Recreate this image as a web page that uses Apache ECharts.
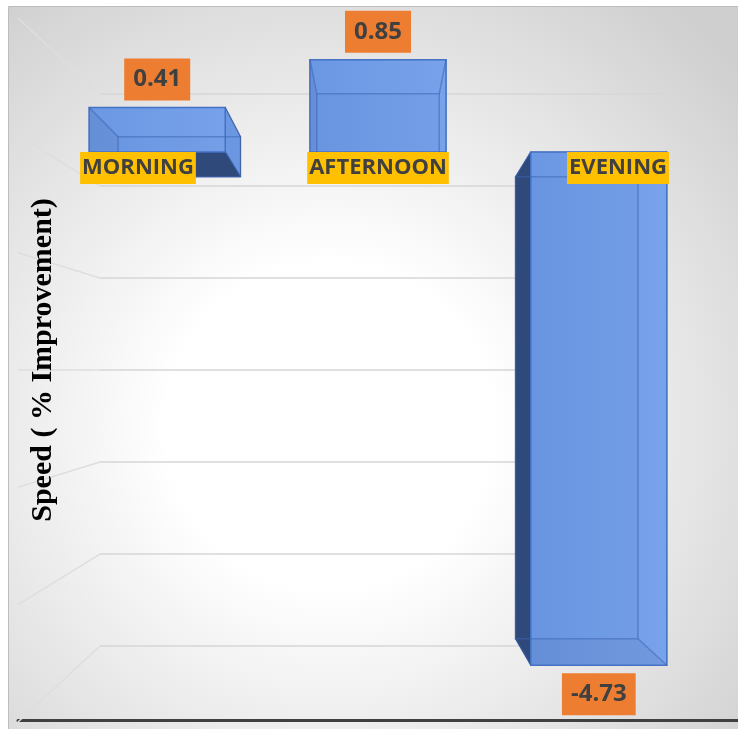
<!DOCTYPE html>
<html><head><meta charset="utf-8">
<script src="https://cdn.jsdelivr.net/npm/echarts@6/dist/echarts.min.js"></script>
<style>html,body{margin:0;padding:0;background:#fff}#c{width:738px;height:729px}</style>
</head><body><div id="c"></div>
<script>
const categories = ['MORNING', 'AFTERNOON', 'EVENING'];
const speedValues = [0.41, 0.85, -4.73];
const valueLabels = ['0.41', '0.85', '-4.73'];
const gridTicks = [0, 1, 2, 3, 4, 5, 6];
const yTitle = 'Speed ( % Improvement)';

const chart = echarts.init(document.getElementById('c'));
const VP = [378, 400];
const DEPTH = 0.9;
const SPREAD = 0.92;
const back = p => [VP[0] + (p[0] - VP[0]) * DEPTH, VP[1] + (p[1] - VP[1]) * DEPTH];

function renderBar(params, api) {
  const idx = api.value(0), v = api.value(1);
  const base = api.coord([idx, 0]);
  const top = api.coord([idx, v]);
  const band = api.size([1, 0])[0];
  const cx = VP[0] + (base[0] - VP[0]) * SPREAD;
  const w = band * 0.567;
  const x0 = cx - w / 2, x1 = cx + w / 2;
  const yT = Math.min(base[1], top[1]), yB = Math.max(base[1], top[1]);
  const F = [[x0, yT], [x1, yT], [x1, yB], [x0, yB]];
  const B = F.map(back);
  const poly = (pts, fill, z2) => ({type: 'polygon', z2: z2 || 0, shape: {points: pts}, style: {fill: fill, stroke: 'rgba(40,70,130,0.5)', lineWidth: 1}});
  const children = [
    poly(B, '#4d78c4', 1),
    poly([F[0], F[1], B[1], B[0]], '#6590dc', 2),
    poly([F[1], F[2], B[2], B[1]], '#6a96e2', 2),
    poly([F[3], F[2], B[2], B[3]], '#2f4a7a', 2),
    poly([F[0], F[3], B[3], B[0]], '#2f4a7a', 2),
    {type: 'polygon', z2: 3, shape: {points: F}, style: {
      fill: new echarts.graphic.LinearGradient(0, 0, 1, 0, [{offset: 0, color: 'rgba(108,152,228,0.88)'}, {offset: 1, color: 'rgba(122,164,236,0.88)'}]),
      stroke: '#4472C4', lineWidth: 1.5}},
    {type: 'polygon', z2: 4, shape: {points: B}, style: {fill: null, stroke: 'rgba(60,100,180,0.5)', lineWidth: 1.5}}
  ];
  for (let k = 0; k < 4; k++) {
    children.push({type: 'line', z2: 4, shape: {x1: F[k][0], y1: F[k][1], x2: B[k][0], y2: B[k][1]}, style: {stroke: 'rgba(60,100,180,0.5)', lineWidth: 1.5}});
  }
  children.push({type: 'text', z2: 10, style: {
    text: categories[idx], x: base[0], y: base[1] + 16, align: 'center', verticalAlign: 'middle',
    font: 'bold 22px "Open Sans"', fill: '#404040', backgroundColor: '#FFC000', padding: [3, 2], lineHeight: 26}});
  const ly = v >= 0 ? yT - 28 : yB + 29;
  children.push({type: 'text', z2: 11, style: {
    text: valueLabels[idx], x: cx, y: ly, align: 'center', verticalAlign: 'middle',
    font: 'bold 24px "Open Sans"', fill: '#404040', backgroundColor: '#ED7D31', padding: [8, 9], lineHeight: 26}});
  return {type: 'group', children: children};
}

function renderGrid(params, api) {
  const y = api.coord([0, api.value(1)])[1];
  const midY = api.coord([0, 3])[1];
  const xl = params.coordSys.x;
  const yw = midY + (y - midY) * 1.275;
  return {type: 'group', children: [
    {type: 'line', shape: {x1: xl, y1: yw, x2: 100, y2: y}, style: {stroke: '#dedede', lineWidth: 1.5}},
    {type: 'line', shape: {x1: 100, y1: y, x2: 662, y2: y}, style: {stroke: '#d6d6d6', lineWidth: 1.5}}
  ]};
}

const option = {
  animation: false,
  backgroundColor: '#ffffff',
  graphic: [
    {type: 'rect', z: -10, shape: {x: 8.5, y: 6.5, width: 730, height: 723},
     style: {fill: new echarts.graphic.RadialGradient(0.44, 0.58, 0.75, [
       {offset: 0, color: '#ffffff'}, {offset: 0.3, color: '#ffffff'}, {offset: 1, color: '#cfcfcf'}]),
       stroke: '#bdbdbd', lineWidth: 1}},
    {type: 'text', z: 5, x: 43, y: 360, rotation: Math.PI / 2,
     style: {text: yTitle, font: 'bold 30px "Liberation Serif"', fill: '#000', align: 'center', verticalAlign: 'middle'}}
  ],
  grid: {left: 18, right: 0, top: 40, bottom: 9, outerBoundsMode: 'none'},
  xAxis: {type: 'category', data: categories,
    axisLine: {show: true, onZero: false, lineStyle: {color: '#404040', width: 3}},
    axisTick: {show: false}, axisLabel: {show: false}, splitLine: {show: false}},
  yAxis: [
    {type: 'value', min: -5.235, max: 1.032, show: false},
    {type: 'value', inverse: true, min: -0.587, max: 6.804, show: false}
  ],
  series: [
    {type: 'custom', name: 'grid', yAxisIndex: 1, z: 1, clip: false, silent: true,
     renderItem: renderGrid, data: gridTicks.map(t => [0, t])},
    {type: 'custom', name: 'Speed', yAxisIndex: 0, z: 3, clip: false,
     renderItem: renderBar, data: speedValues.map((v, i) => [i, v])}
  ]
};
chart.setOption(option);
</script></body></html>
